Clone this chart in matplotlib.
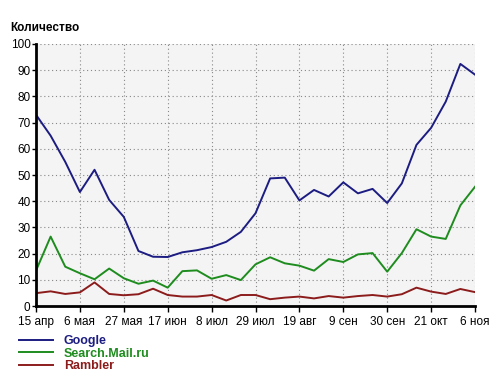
import numpy as np
import matplotlib
matplotlib.use("Agg")
import matplotlib.pyplot as plt

plt.rcParams["font.family"] = ["Liberation Sans", "DejaVu Sans"]

# weekly points, labels every third week
tick_labels = ["15 апр", "6 мая", "27 мая", "17 июн", "8 июл", "29 июл",
               "19 авг", "9 сен", "30 сен", "21 окт", "6 ноя"]

google = [73, 65, 55, 43.5, 52, 40.5, 34, 21, 18.8, 18.7, 20.5, 21.3, 22.5, 24.5,
          28.3, 35.4, 48.7, 49, 40.3, 44.3, 41.8, 47.2, 43, 44.7, 39.3,
          46.8, 61.5, 68, 78, 92.4, 88.3]
mail = [13.5, 26.5, 15, 12.5, 10.2, 14.3, 10.6, 8.5, 9.7, 7, 13.3, 13.6, 10.4, 11.8,
        9.9, 15.9, 18.6, 16.3, 15.4, 13.5, 17.9, 16.8, 19.7, 20.2, 13.1,
        20.2, 29.3, 26.5, 25.6, 38.4, 45.5]
rambler = [4.9, 5.6, 4.6, 5.2, 9, 4.6, 4.1, 4.5, 6.6, 4.2, 3.6, 3.6, 4.2, 2.1,
           4.2, 4.2, 2.6, 3.2, 3.6, 2.9, 3.8, 3.2, 3.8, 4.2, 3.6,
           4.5, 7, 5.5, 4.6, 6.5, 5.3]

x = np.arange(len(google))

fig = plt.figure(figsize=(5.0, 3.77), dpi=100)
ax = fig.add_axes([0.072, 0.1883, 0.878, 0.695])
ax.set_facecolor("#f4f4f4")

ax.plot(x, google, color="#1c1c82", lw=1.4, label="Google")
ax.plot(x, mail, color="#1e8c1e", lw=1.4, label="Search.Mail.ru")
ax.plot(x, rambler, color="#8c1c1c", lw=1.4, label="Rambler")

ax.set_xlim(0, 30)
ax.set_ylim(0, 100)
ax.set_xticks(np.arange(0, 31, 3))
ax.set_xticklabels(tick_labels, fontsize=8.5)
ax.set_yticks(np.arange(0, 101, 10))
ax.tick_params(axis="y", labelsize=8.5, length=3, width=1, pad=1)
ax.tick_params(axis="x", length=4, width=1, pad=3)
ax.grid(True, color="#888888", linestyle=(0, (1, 2.5)), lw=0.8)
for s in ("top", "right"):
    ax.spines[s].set_visible(False)
for s in ("left", "bottom"):
    ax.spines[s].set_linewidth(2)

fig.text(0.02, 0.925, "Количество", fontsize=8.5, fontweight="bold",
         ha="left", va="center")

leg = fig.legend(loc="upper left", bbox_to_anchor=(0.025, 0.128), frameon=False,
                 handlelength=2.7, handletextpad=0.9, labelspacing=0.05,
                 borderpad=0, prop={"size": 9, "weight": "bold"},
                 labelcolor="linecolor")

fig.savefig("out.png", dpi=100)
